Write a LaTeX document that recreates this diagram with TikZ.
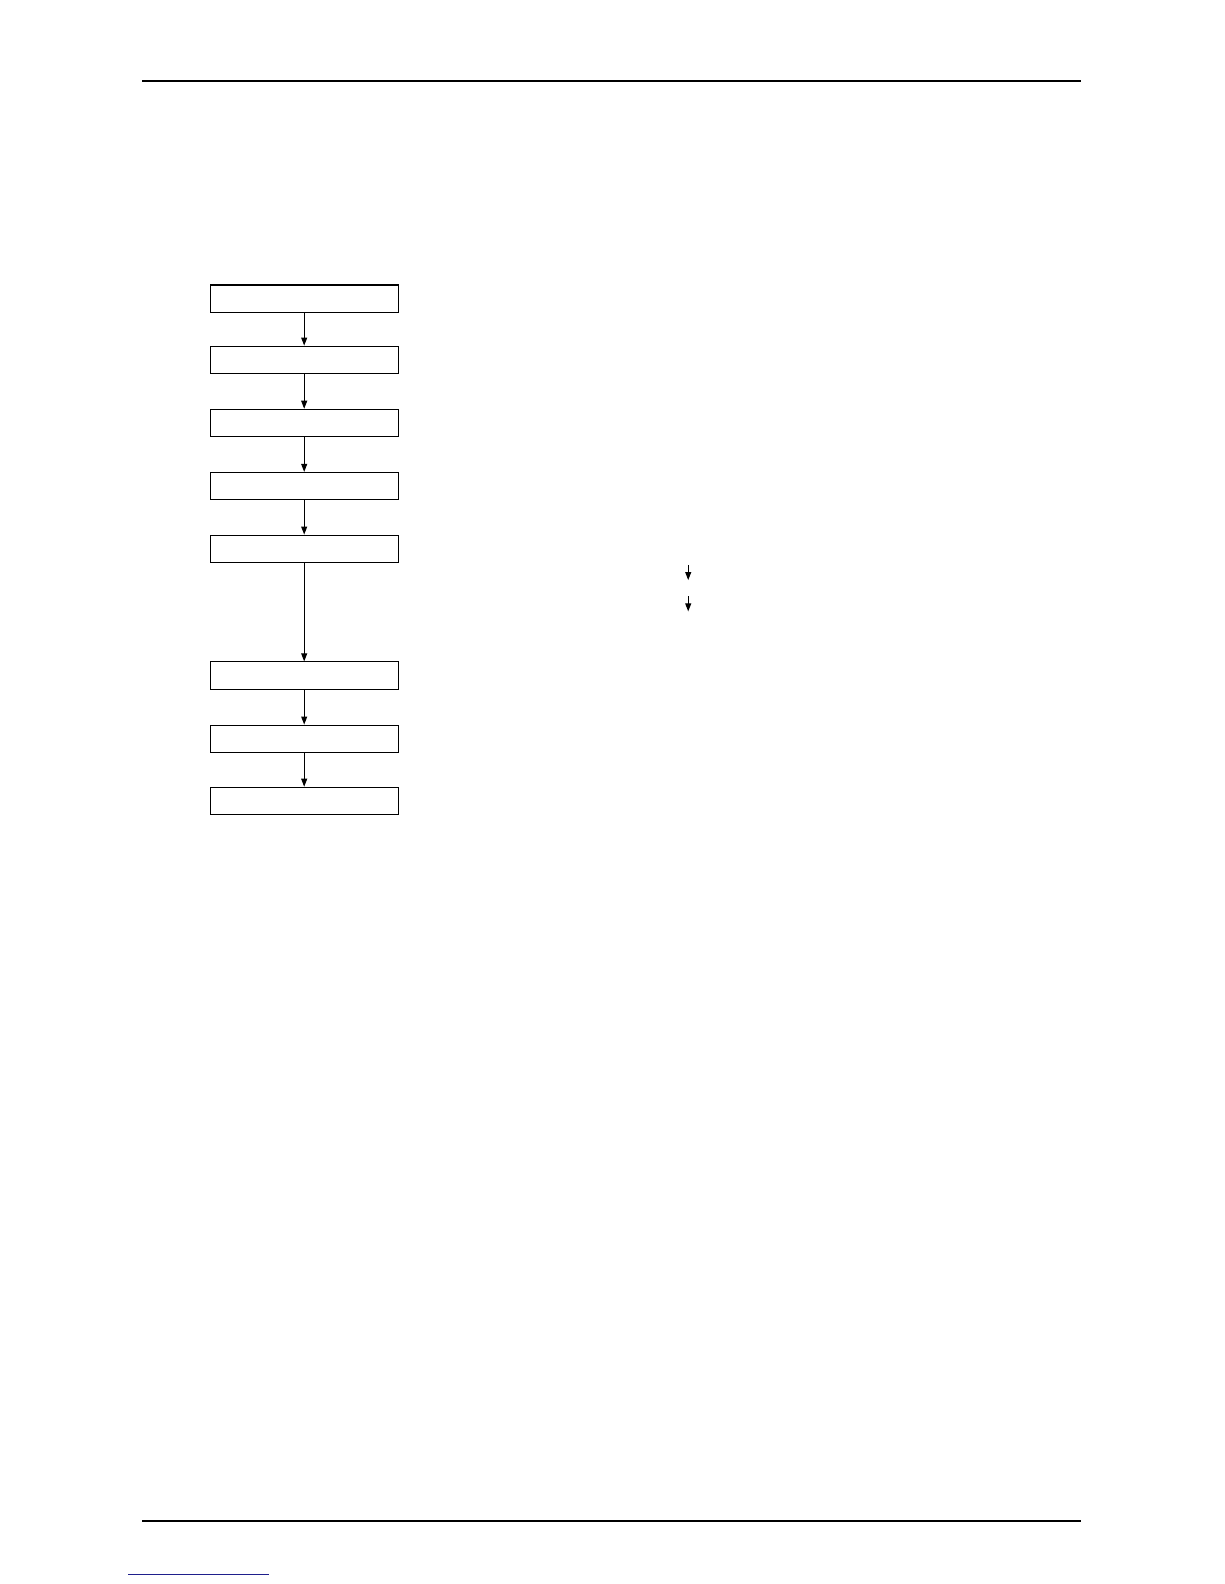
\documentclass[tikz,border=0pt]{standalone}
\usetikzlibrary{arrows.meta}
\definecolor{linkblue}{rgb}{0.12,0.12,0.55}
\tikzset{
  box/.style={draw,line width=0.6pt,minimum width=3.759cm,minimum height=0.5457cm,inner sep=0pt},
  flow/.style={line width=0.6pt,-{Triangle[length=4.6pt,width=3.4pt]}},
}
\begin{document}
\begin{tikzpicture}[x=0.020212cm,y=-0.020212cm]
\useasboundingbox (0,0) rectangle (1211.2,1567.4);

% header and footer rules
\draw[line width=1pt] (141,80) -- (1070,80);
\draw[line width=1pt] (141,1505) -- (1070,1505);
\draw[linkblue,line width=0.8pt] (127,1558) -- (266,1558);

% flow boxes
\node[box] (b1) at (301,295.5) {};
\node[box] (b2) at (301,356) {};
\node[box] (b3) at (301,418.5) {};
\node[box] (b4) at (301,481) {};
\node[box] (b5) at (301,543) {};
\node[box] (b6) at (301,668.5) {};
\node[box] (b7) at (301,731) {};
\node[box] (b8) at (301,792.5) {};

\draw[flow] (b1) -- (b2);
\draw[flow] (b2) -- (b3);
\draw[flow] (b3) -- (b4);
\draw[flow] (b4) -- (b5);
\draw[flow] (b5) -- (b6);
\draw[flow] (b6) -- (b7);
\draw[flow] (b7) -- (b8);

% small arrows on the right
\coordinate (s1) at (681,559);
\coordinate (e1) at (681,574);
\coordinate (s2) at (681,590);
\coordinate (e2) at (681,605);
\draw[flow] (s1) -- (e1);
\draw[flow] (s2) -- (e2);
\end{tikzpicture}
\end{document}
